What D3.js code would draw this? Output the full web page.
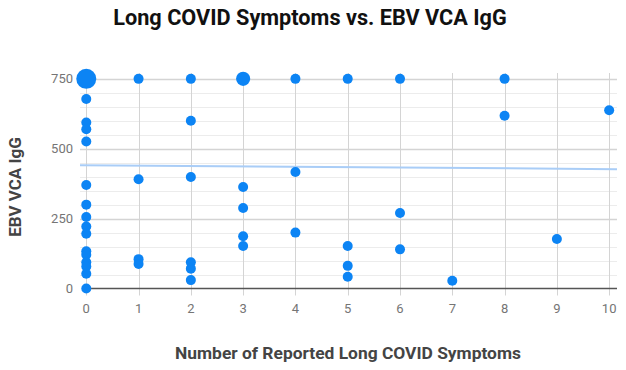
<!DOCTYPE html>
<style>
  body { margin: 0; background: white; }
  svg { display: block; font-family: Roboto, sans-serif; }
  .grid-major line { stroke: #d4d4d4; }
  .grid-minor line { stroke: #ececec; }
  .tick-label { fill: #757575; font-size: 13px; }
</style>
<body>
</body>
<script src="https://cdn.jsdelivr.net/npm/d3@7"></script>
<script>
  // symptom counts (x) and EBV VCA IgG readings (y), one list per x value
  const symptoms = [0, 1, 2, 3, 4, 5, 6, 7, 8, 9, 10];
  const igg = [
    [750, 750, 750, 750, 678, 594, 570, 526, 370, 300, 256, 222, 196, 133, 121, 94, 79, 53, 0],
    [750, 391, 105, 88],
    [750, 600, 399, 94, 71, 30],
    [750, 750, 363, 288, 187, 152],
    [750, 417, 200],
    [750, 152, 81, 42],
    [750, 270, 140],
    [28],
    [750, 618],
    [177],
    [638],
  ];
  const yTicks = [0, 250, 500, 750];
  const yMinor = [50, 100, 150, 200, 300, 350, 400, 450, 550, 600, 650, 700];
  // trend line value at the left and right edge of the plot
  const trend = [441, 427];

  const w = 626, h = 370;
  const svg = d3.select('body').append('svg')
    .attr('width', w)
    .attr('height', h);

  const x = d3.scaleLinear().domain([-0.12, 10.15]).range([80, 617]);
  const y = d3.scaleLinear().domain([0, 771]).range([288.5, 73]);

  // collapse duplicates into sized dots
  const points = [];
  symptoms.forEach((s, i) => {
    d3.rollups(igg[i], v => v.length, d => d).forEach(([v, n]) => {
      points.push({x: s, y: v, n});
    });
  });
  const r = d3.scaleSqrt().domain([1, 4]).range([5, 10]);

  const [x0, x1] = x.domain();
  const [y0, y1] = y.domain();

  const g = svg.append('g');

  g.append('g').attr('class', 'grid-minor')
    .selectAll('line')
    .data(yMinor)
    .join('line')
    .attr('x1', x(x0)).attr('x2', x(x1))
    .attr('y1', d => Math.round(y(d)) + 0.5).attr('y2', d => Math.round(y(d)) + 0.5);

  g.append('g').attr('class', 'grid-major')
    .selectAll('line')
    .data(yTicks.slice(1))
    .join('line')
    .attr('x1', x(x0)).attr('x2', x(x1))
    .attr('y1', d => Math.round(y(d)) + 0.5).attr('y2', d => Math.round(y(d)) + 0.5)
    .attr('stroke-width', 1.5);

  // vertical grid, running a little below the baseline as ticks
  g.append('g').attr('class', 'grid-major')
    .selectAll('line')
    .data(symptoms)
    .join('line')
    .attr('x1', d => Math.round(x(d)) + 0.5).attr('x2', d => Math.round(x(d)) + 0.5)
    .attr('y1', y(y1)).attr('y2', y(0) + 7)
    .attr('stroke', d => d === 0 ? '#666' : null);

  // baseline
  g.append('line')
    .attr('x1', x(x0) + 2).attr('x2', x(x1))
    .attr('y1', y(0)).attr('y2', y(0))
    .attr('stroke', '#555').attr('stroke-width', 1.5);

  // trend line
  g.append('line')
    .attr('x1', x(x0)).attr('x2', x(x1))
    .attr('y1', y(trend[0])).attr('y2', y(trend[1]))
    .attr('stroke', '#a9cdf7').attr('stroke-width', 2);

  g.append('g')
    .selectAll('circle')
    .data(points)
    .join('circle')
    .attr('cx', d => x(d.x))
    .attr('cy', d => y(d.y))
    .attr('r', d => r(d.n))
    .attr('fill', '#0c84f4');

  g.append('g')
    .selectAll('text')
    .data(yTicks)
    .join('text')
    .attr('class', 'tick-label')
    .attr('x', 73)
    .attr('y', d => y(d))
    .attr('dy', '0.35em')
    .attr('text-anchor', 'end')
    .text(d => d);

  g.append('g')
    .selectAll('text')
    .data(symptoms)
    .join('text')
    .attr('class', 'tick-label')
    .attr('x', d => x(d))
    .attr('y', 313)
    .attr('text-anchor', 'middle')
    .text(d => d);

  svg.append('text')
    .attr('x', 310).attr('y', 25)
    .attr('text-anchor', 'middle')
    .attr('font-size', 21.7).attr('font-weight', 'bold')
    .attr('fill', '#111')
    .text('Long COVID Symptoms vs. EBV VCA IgG');

  svg.append('text')
    .attr('transform', 'translate(21, 187) rotate(-90)')
    .attr('text-anchor', 'middle')
    .attr('font-size', 17).attr('font-weight', 'bold')
    .attr('fill', '#444')
    .text('EBV VCA IgG');

  svg.append('text')
    .attr('x', 348).attr('y', 359)
    .attr('text-anchor', 'middle')
    .attr('font-size', 17.4).attr('font-weight', 'bold')
    .attr('fill', '#444')
    .text('Number of Reported Long COVID Symptoms');
</script>
